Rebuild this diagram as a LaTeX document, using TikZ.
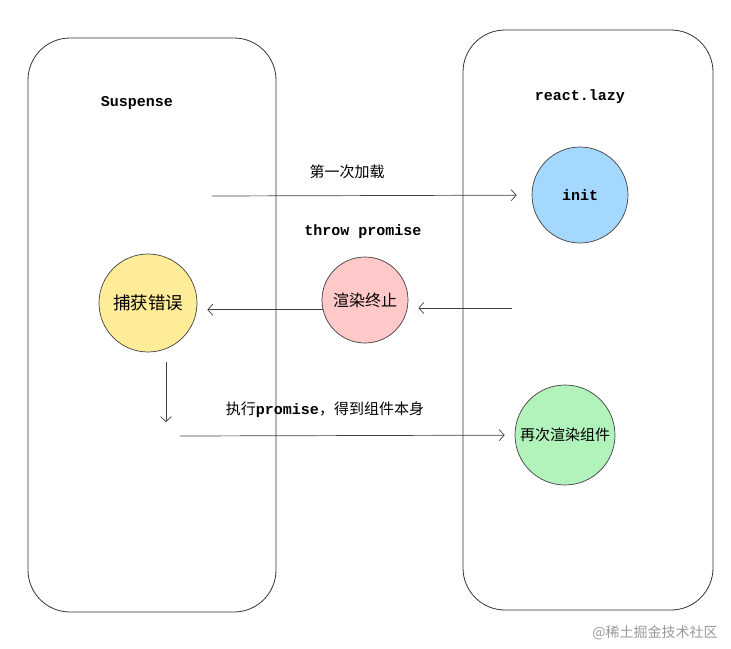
\documentclass[tikz,border=0pt]{standalone}
\usepackage{fontspec}
\setmainfont{Noto Sans CJK SC}
\newfontfamily\codefont{Liberation Mono}
\usetikzlibrary{arrows.meta}

\definecolor{lazyblue}{HTML}{A5D8FF}
\definecolor{stopred}{HTML}{FFC9C9}
\definecolor{catchyellow}{HTML}{FFEC99}
\definecolor{renewgreen}{HTML}{B2F2BB}

\begin{document}
\begin{tikzpicture}[x=1pt,y=-1pt,>={Straight Barb[length=5pt,width=11pt]},
  panel/.style={draw=black!80,line width=0.8pt,rounded corners=42pt,minimum width=#1,inner sep=0pt},
  stage/.style={circle,draw=black!75,line width=0.7pt,inner sep=0pt,font=\fontsize{15}{18}\selectfont},
  code/.style={font=\codefont\bfseries\fontsize{15}{18}\selectfont},
  note/.style={font=\fontsize{15}{18}\selectfont},
  flow/.style={draw=black!75,line width=0.7pt,->}]
  \useasboundingbox (0,0) rectangle (731,648);
  % the two sides
  \node[panel=248pt,minimum height=574pt] (suspensebox) at (152,325) {};
  \node[panel=250pt,minimum height=580pt] (lazybox) at (588,320) {};
  \node[code] (suspensetitle) at (137,103) {Suspense};
  \node[code] (lazytitle) at (580,97) {react.lazy};
  % states
  \node[stage,fill=lazyblue,minimum size=96pt] (init) at (580,195) {\codefont\bfseries init};
  \node[stage,fill=stopred,minimum size=86pt,font=\fontsize{16}{19}\selectfont] (throwstop) at (365,300) {渲染终止};
  \node[stage,fill=catchyellow,minimum size=98pt,font=\fontsize{17.5}{20}\selectfont] (catcherr) at (148,303) {捕获错误};
  \node[stage,fill=renewgreen,minimum size=100pt] (rerender) at (565,435) {再次渲染组件};
  % free ends
  \coordinate (loadstart) at (212,196);
  \coordinate (lazyhook) at (512,308);
  \coordinate (waitstart) at (166,362);
  \coordinate (waitend) at (166,422);
  \coordinate (resumestart) at (180,436);
  % messages
  \draw[flow,shorten >=15pt] (loadstart) -- (init);
  \draw[flow,shorten >=10pt] (lazyhook) -- (lazyhook -| throwstop.east);
  \draw[flow,shorten >=10pt] (throwstop.193) -- (throwstop.193 -| catcherr.east);
  \draw[flow] (waitstart) -- (waitend);
  \draw[flow,shorten >=10pt] (resumestart) -- (rerender);
  \node[note] (firstload) at (347,172) {第一次加载};
  \node[code] (throwmsg) at (363,232) {throw promise};
  \node[note] (resumemsg) at (325,410) {执行{\codefont\bfseries promise}，得到组件本身};
  \node[font=\fontsize{14}{16}\selectfont,text=black!40] (mark) at (655,633) {@稀土掘金技术社区};
\end{tikzpicture}
\end{document}
